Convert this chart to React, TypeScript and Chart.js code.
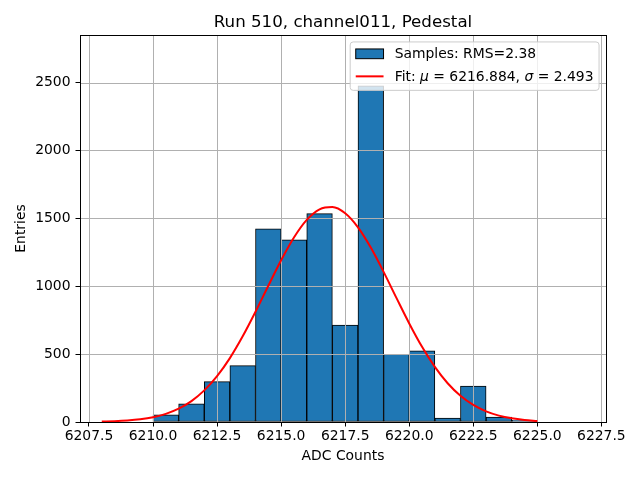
import React, { useEffect, useRef } from "react";
import { Chart, registerables } from "chart.js";

Chart.register(...registerables);

// histogram: one bin per ADC count, centre and number of entries
const binCenters = [
  6210.5, 6211.5, 6212.5, 6213.5, 6214.5, 6215.5, 6216.5, 6217.5, 6218.5,
  6219.5, 6220.5, 6221.5, 6222.5, 6223.5, 6224.5,
];
const binCounts = [
  52, 133, 297, 415, 1422, 1341, 1535, 714, 2475, 498, 525, 29, 265, 37, 12,
];

// gaussian fit curve, every half count
const fitX = [
  6208, 6208.5, 6209, 6209.5, 6210, 6210.5, 6211, 6211.5, 6212, 6212.5, 6213,
  6213.5, 6214, 6214.5, 6215, 6215.5, 6216, 6216.5, 6217, 6217.5, 6218, 6218.5,
  6219, 6219.5, 6220, 6220.5, 6221, 6221.5, 6222, 6222.5, 6223, 6223.5, 6224,
  6224.5, 6225,
];
const fitY = [
  2.8, 5.5, 10.7, 19.7, 35.0, 59.7, 97.8, 153.9, 232.7, 337.8, 470.7, 630.8,
  811.7, 1003.3, 1191.3, 1358.7, 1488.5, 1566.3, 1583.3, 1537.3, 1434.0, 1284.7,
  1105.5, 914.0, 725.8, 553.6, 405.6, 285.5, 193.0, 125.4, 78.2, 46.9, 27.0,
  14.9, 7.9,
];

const xLimits = [6207.15, 6227.68];
const yMax = 2850;
const xTickStep = 2.5;
const yTickStep = 500;

const titleText = "Run 510, channel011, Pedestal";
const xLabel = "ADC Counts";
const yLabel = "Entries";
const sampleLabel = "Samples: RMS=2.38";
// [text, italic]
const fitLabelParts: [string, boolean][] = [
  ["Fit: ", false],
  ["μ", true],
  [" = 6216.884, ", false],
  ["σ", true],
  [" = 2.493", false],
];

const FONT = "DejaVu Sans";
const FS = 13.9; // 10pt at 100 dpi
const BLUE = "#1f77b4";

// matplotlib look: grid above bars but under the line, full frame, legend box, title
const mplPlugin = {
  id: "mplLook",
  beforeDatasetDraw(chart: any, args: any) {
    if (args.index !== 1) return;
    const { ctx, chartArea: a, scales } = chart;
    ctx.save();
    ctx.strokeStyle = "#b0b0b0";
    ctx.lineWidth = 1;
    ctx.beginPath();
    scales.x.ticks.forEach((t: any) => {
      const px = Math.round(scales.x.getPixelForValue(t.value)) + 0.5;
      ctx.moveTo(px, a.top);
      ctx.lineTo(px, a.bottom);
    });
    scales.y.ticks.forEach((t: any) => {
      const py = Math.round(scales.y.getPixelForValue(t.value)) + 0.5;
      ctx.moveTo(a.left, py);
      ctx.lineTo(a.right, py);
    });
    ctx.stroke();
    ctx.restore();
  },
  afterDatasetsDraw(chart: any) {
    const { ctx, chartArea: a } = chart;
    ctx.save();
    ctx.strokeStyle = "#000";
    ctx.lineWidth = 1;
    ctx.strokeRect(
      Math.round(a.left) + 0.5,
      Math.round(a.top) + 0.5,
      Math.round(a.right) - Math.round(a.left),
      Math.round(a.bottom) - Math.round(a.top)
    );
    ctx.restore();
  },
  afterDraw(chart: any) {
    const { ctx, chartArea: a } = chart;
    ctx.save();

    // title
    ctx.fillStyle = "#000";
    ctx.font = `16.67px "${FONT}"`;
    ctx.textAlign = "center";
    ctx.textBaseline = "alphabetic";
    ctx.fillText(titleText, (a.left + a.right) / 2, 27);

    // legend
    const regular = `${FS}px "${FONT}"`;
    const italic = `italic ${FS}px "${FONT}"`;
    ctx.textAlign = "left";
    ctx.font = regular;
    const w1 = ctx.measureText(sampleLabel).width;
    let w2 = 0;
    fitLabelParts.forEach(([s, it]) => {
      ctx.font = it ? italic : regular;
      w2 += ctx.measureText(s).width;
    });
    const pad = 0.4 * FS;
    const hl = 2 * FS;
    const htp = 0.8 * FS;
    const boxW = 2 * pad + hl + htp + Math.max(w1, w2);
    const boxH = 48.4;
    const right = a.right - 0.5 * FS;
    const top = a.top + 0.5 * FS;
    const left = right - boxW;
    const r = 3;
    ctx.beginPath();
    ctx.moveTo(left + r, top);
    ctx.lineTo(right - r, top);
    ctx.quadraticCurveTo(right, top, right, top + r);
    ctx.lineTo(right, top + boxH - r);
    ctx.quadraticCurveTo(right, top + boxH, right - r, top + boxH);
    ctx.lineTo(left + r, top + boxH);
    ctx.quadraticCurveTo(left, top + boxH, left, top + boxH - r);
    ctx.lineTo(left, top + r);
    ctx.quadraticCurveTo(left, top, left + r, top);
    ctx.closePath();
    ctx.fillStyle = "rgba(255,255,255,0.8)";
    ctx.fill();
    ctx.strokeStyle = "#cccccc";
    ctx.lineWidth = 1;
    ctx.stroke();

    const hx = left + pad;
    // bar handle
    ctx.fillStyle = BLUE;
    ctx.fillRect(hx, top + 7, hl, 0.7 * FS);
    ctx.strokeStyle = "#000";
    ctx.lineWidth = 1;
    ctx.strokeRect(hx, top + 7, hl, 0.7 * FS);
    // line handle
    ctx.strokeStyle = "red";
    ctx.lineWidth = 2;
    ctx.beginPath();
    ctx.moveTo(hx, top + 34.4);
    ctx.lineTo(hx + hl, top + 34.4);
    ctx.stroke();

    ctx.fillStyle = "#000";
    const tx = hx + hl + htp;
    ctx.font = regular;
    ctx.fillText(sampleLabel, tx, top + 16.4);
    let cx = tx;
    fitLabelParts.forEach(([s, it]) => {
      ctx.font = it ? italic : regular;
      ctx.fillText(s, cx, top + 39.4);
      cx += ctx.measureText(s).width;
    });

    ctx.restore();
  },
};

const App: React.FC = () => {
  const canvasRef = useRef<HTMLCanvasElement>(null);

  useEffect(() => {
    const ctx = canvasRef.current?.getContext("2d");
    if (!ctx) return;

    const tickFont = { family: FONT, size: FS };

    const chart = new Chart(ctx, {
      type: "bar",
      data: {
        datasets: [
          {
            type: "bar",
            label: sampleLabel,
            data: binCenters.map((x, i) => ({ x, y: binCounts[i] })),
            backgroundColor: BLUE,
            borderColor: "#000",
            borderWidth: 1,
            borderSkipped: false,
            barPercentage: 1,
            categoryPercentage: 1,
            order: 1,
          },
          {
            type: "line",
            label: "Fit",
            data: fitX.map((x, i) => ({ x, y: fitY[i] })),
            borderColor: "#ff0000",
            borderWidth: 2,
            pointRadius: 0,
            fill: false,
            cubicInterpolationMode: "monotone",
            order: 0,
          },
        ] as any,
      },
      options: {
        animation: false,
        responsive: true,
        maintainAspectRatio: false,
        layout: { padding: { top: 35, right: 34, left: 0, bottom: 0 } },
        plugins: {
          legend: { display: false },
          tooltip: { enabled: false },
          title: { display: false },
        },
        scales: {
          x: {
            type: "linear",
            min: xLimits[0],
            max: xLimits[1],
            offset: false,
            border: { display: false },
            grid: {
              offset: false,
              drawOnChartArea: false,
              tickLength: 4.5,
              tickColor: "#000",
              tickWidth: 1,
            },
            ticks: {
              stepSize: xTickStep,
              includeBounds: false,
              autoSkip: false,
              maxRotation: 0,
              padding: 2,
              color: "#000",
              font: tickFont,
              callback: (v: any) => Number(v).toFixed(1),
            },
            title: {
              display: true,
              text: xLabel,
              color: "#000",
              font: tickFont,
              padding: { top: 0, bottom: 14.8 },
            },
            afterFit: (s: any) => {
              s.height = 58;
            },
          },
          y: {
            type: "linear",
            beginAtZero: true,
            max: yMax,
            border: { display: false },
            grid: {
              drawOnChartArea: false,
              tickLength: 4.5,
              tickColor: "#000",
              tickWidth: 1,
            },
            ticks: {
              stepSize: yTickStep,
              includeBounds: false,
              padding: 5,
              color: "#000",
              font: tickFont,
              callback: (v: any) => String(v),
            },
            title: {
              display: true,
              text: yLabel,
              color: "#000",
              font: tickFont,
              padding: { top: 13, bottom: 0 },
            },
            afterFit: (s: any) => {
              s.width = 80;
            },
          },
        },
      },
      plugins: [mplPlugin],
    });

    return () => chart.destroy();
  }, []);

  return (
    <div
      style={{
        position: "absolute",
        left: 0,
        top: 0,
        width: 640,
        height: 480,
        background: "#fff",
      }}
    >
      <canvas ref={canvasRef}></canvas>
    </div>
  );
};

export default App;
